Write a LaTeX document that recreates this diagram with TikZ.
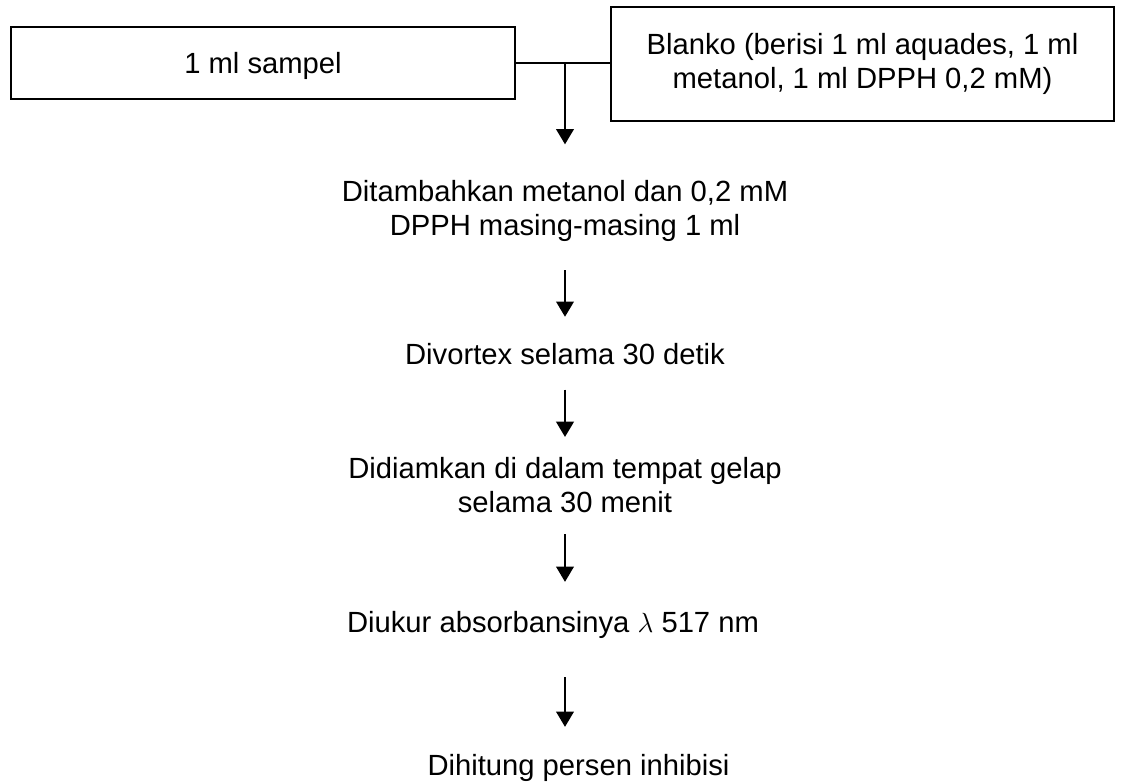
\documentclass[tikz,border=0pt]{standalone}
\usepackage{fontspec}
\setmainfont{Liberation Sans}
\usetikzlibrary{arrows.meta}

\begin{document}
\begin{tikzpicture}[x=0.75pt,y=-0.75pt,
  every node/.style={font=\fontsize{21.9}{25.9}\selectfont, inner sep=0pt, align=center},
  kotak/.style={draw, line width=1.2pt},
  garis/.style={line width=2pt},
  panah/.style={line width=2.2pt, -{Triangle[length=11.5pt, width=13pt]}}]
\useasboundingbox (0,0) rectangle (1122,782);
\node[kotak, minimum width=378pt, minimum height=54pt, text depth=0pt] (sampel) at (263,63) {1 ml sampel};
\node[kotak, minimum width=377pt, minimum height=85.5pt] (blanko) at (862.5,64) {Blanko (berisi 1 ml aquades, 1 ml\\metanol, 1 ml DPPH 0,2 mM)};
\node (tambah) at (565,211) {Ditambahkan metanol dan 0,2 mM\\DPPH masing-masing 1 ml};
\node[anchor=base] (vortex) at (565,364) {Divortex selama 30 detik};
\node (diam) at (565,485) {Didiamkan di dalam tempat gelap\\selama 30 menit};
\node[anchor=base] (ukur) at (553,632) {Diukur absorbansinya $\lambda$ 517 nm};
\node[anchor=base] (hitung) at (578.5,775) {Dihitung persen inhibisi};
\draw [garis] (sampel.east) -- (sampel.east -| blanko.west);
\draw [panah, shorten >=26.6pt] (sampel.east -| tambah) -- (tambah.north);
\draw [panah, shorten <=21pt, shorten >=19.3pt] (tambah.south) -- (tambah.south |- vortex.north);
\draw [panah, shorten <=18.75pt, shorten >=14.8pt] (vortex.south) -- (vortex.south |- diam.north);
\draw [panah, shorten <=15.75pt, shorten >=21.5pt] (diam.south) -- (diam.south |- ukur.north);
\draw [panah, shorten <=29.2pt, shorten >=20pt] (diam.south |- ukur.south) -- (diam.south |- hitung.north);
\end{tikzpicture}
\end{document}
